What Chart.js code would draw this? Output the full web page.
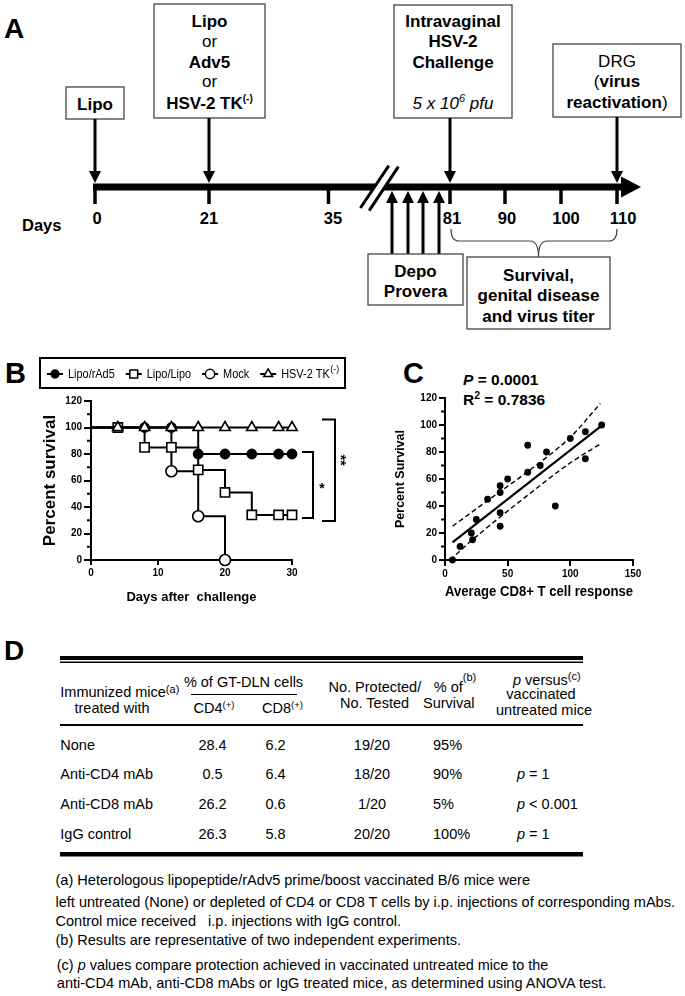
<!DOCTYPE html>
<html>
<head>
<meta charset="utf-8">
<title>Lipo/rAd5 prime-boost protection against HSV-2</title>
<script src="https://cdn.jsdelivr.net/npm/chart.js"></script>
<style>
  body { margin: 0; background: #fff; }
  #page { position: relative; width: 685px; height: 996px; overflow: hidden; background: #fff; }
  #art { position: absolute; left: 0; top: 0; }
  canvas { position: absolute; }
  #chartB { left: 0; top: 350px; }
  #chartC { left: 385px; top: 390px; }
</style>
</head>
<body>
<div id="page">
  <svg id="art" width="685" height="996" font-family="Liberation Sans, Arial, sans-serif"></svg>
  <canvas id="chartB" width="350" height="260"></canvas>
  <canvas id="chartC" width="300" height="215"></canvas>
</div>
<script>
// ---- data ----
const timelineDays = ['0', '21', '35', '81', '90', '100', '110'];

// B: Kaplan-Meier survival after challenge
const rad5Days = [0, 8, 12, 16, 20, 24, 28, 30];
const rad5Survival = [100, 100, 100, 80, 80, 80, 80, 80];
const lipoDays = [0, 4, 8, 12, 16, 20, 24, 28, 30];
const lipoSurvival = [100, 100, 85, 85, 68, 51, 34, 34, 34];
const mockDays = [0, 12, 16, 20];
const mockSurvival = [100, 67, 33, 0];
const tkDays = [0, 4, 8, 12, 16, 20, 24, 28, 30];
const tkSurvival = [100, 100, 100, 100, 100, 100, 100, 100, 100];
const dayTicks = [0, 10, 20, 30];
const survivalTicks = [0, 20, 40, 60, 80, 100, 120];
const survivalMinor = [10, 30, 50, 70, 90, 110];

// C: CD8+ response vs survival
const cd8Response = [6, 12, 21, 22, 25, 34, 44, 44, 44, 44, 50, 66, 66, 76, 81, 88, 100, 112, 112, 125];
const cd8Survival = [0, 10, 20, 15, 30, 45, 55, 50, 35, 25, 60, 85, 65, 70, 80, 40, 90, 95, 75, 100];
const fitX = [6, 125];
const fitY = [13, 99.5];
const upperX = [6, 34, 66, 100, 124];
const upperY = [25, 44, 65.5, 91, 116];
const lowerX = [4, 22, 66, 100, 124];
const lowerY = [0, 15, 48, 72, 86];
const cd8Ticks = [0, 50, 100, 150];

// D: depletion table
const treatments = ['None', 'Anti-CD4 mAb', 'Anti-CD8 mAb', 'IgG control'];
const cd4Percent = ['28.4', '0.5', '26.2', '26.3'];
const cd8Percent = ['6.2', '6.4', '0.6', '5.8'];
const protectedTested = ['19/20', '18/20', '1/20', '20/20'];
const survivalPercent = ['95%', '90%', '5%', '100%'];
const pVersus = ['', '= 1', '< 0.001', '= 1'];
const footnotes = [
  '(a) Heterologous lipopeptide/rAdv5 prime/boost vaccinated B/6 mice were',
  'left untreated (None) or depleted of CD4 or CD8 T cells by i.p. injections of corresponding mAbs.',
  'Control mice received   i.p. injections with IgG control.',
  '(b) Results are representative of two independent experiments.',
  '(c) p values compare protection achieved in vaccinated untreated mice to the',
  'anti-CD4 mAb, anti-CD8 mAbs or IgG treated mice, as determined using ANOVA test.'
];

// ---- svg artwork (panels A, D and labels) ----
const svg = [];
const esc = s => s.replace(/&/g, '&amp;').replace(/</g, '&lt;').replace(/>/g, '&gt;');
function text(x, y, content, o = {}) {
  const a = [`x="${x}"`, `y="${y}"`, `font-size="${o.size || 17}"`,
    `font-weight="${o.bold === false ? 'normal' : 'bold'}"`, `text-anchor="${o.anchor || 'middle'}"`];
  if (o.italic) a.push('font-style="italic"');
  if (o.len) a.push(`textLength="${o.len}" lengthAdjust="spacingAndGlyphs"`);
  svg.push(`<text ${a.join(' ')} style="white-space:pre">${content}</text>`);
}
const sup = (s, dy, size) => `<tspan dy="${-dy}" font-size="${size}">${s}</tspan>`;
const back = (s, dy) => `<tspan dy="${dy}">${s}</tspan>`;
const it = s => `<tspan font-style="italic">${s}</tspan>`;
const reg = s => `<tspan font-weight="normal">${s}</tspan>`;
function line(x1, y1, x2, y2, w, c) {
  svg.push(`<line x1="${x1}" y1="${y1}" x2="${x2}" y2="${y2}" stroke="${c || '#000'}" stroke-width="${w}"/>`);
}
function poly(pts, fill) { svg.push(`<polygon points="${pts.join(' ')}" fill="${fill || '#000'}"/>`); }
function box(x, y, w, h) {
  svg.push(`<rect x="${x}" y="${y}" width="${w}" height="${h}" fill="#fff" stroke="#444" stroke-width="1.3"/>`);
}
function arrowDown(x, y1, tip) { line(x, y1, x, tip - 10, 3); poly([x - 6, tip - 12, x + 6, tip - 12, x, tip]); }
function arrowUp(x, y1, tip) { line(x, y1, x, tip + 10, 3); poly([x - 6, tip + 12, x + 6, tip + 12, x, tip]); }

// panel A
text(4, 38, 'A', { size: 28, anchor: 'start' });
const tickX = [95, 209, 328.5, 450, 505, 561, 617];
const labelX = [97, 209, 333, 452, 507, 566, 623];
line(93, 187, 623, 187, 7);
poly([621, 176.5, 641, 187, 621, 197.5]);
tickX.forEach((x, i) => {
  line(x, 187, x, 204, 3.5);
  text(labelX[i], 224, timelineDays[i], { size: 16.5 });
});
poly([371, 192, 383, 192, 388.5, 182, 376.5, 182], '#fff');
line(360.4, 208, 388.8, 165.7, 3);
line(369.2, 210.7, 398.4, 166.7, 3);
text(22, 231, 'Days', { size: 16.5, anchor: 'start' });

box(66, 87, 58, 32);
text(95, 110, 'Lipo');
arrowDown(95, 119, 183);

box(154, 4, 111, 114);
text(209.5, 27.3, 'Lipo');
text(209.5, 46.7, 'or', { bold: false });
text(209.5, 67.7, 'Adv5');
text(209.5, 87.3, 'or', { bold: false });
text(209.5, 109.3, 'HSV-2 TK' + sup('(-)', 7, 10));
arrowDown(209, 118, 183);

box(394, 5, 118, 113);
text(453, 27.3, 'Intravaginal');
text(453, 46.7, 'HSV-2');
text(453, 68.3, 'Challenge');
text(453, 109.3, '5 x 10' + sup('6', 7, 11) + back(' pfu', 7), { bold: false, italic: true });
arrowDown(450, 118, 183);

box(553, 44, 128, 73);
text(617, 67.3, 'DRG', { bold: false });
text(617, 87.3, reg('(') + 'virus');
text(617, 108.3, 'reactivation' + reg(')'));
arrowDown(617, 117, 183);

[392, 408, 423, 439].forEach(x => arrowUp(x, 254, 191));
box(368, 254, 95, 51);
text(415.5, 277.3, 'Depo');
text(415.5, 297.3, 'Provera');

svg.push('<path d="M451,229 Q451,241 459,241 L530,241 Q538.5,241 538.5,257 Q538.5,241 547,241 L609,241 Q617,241 617,229" fill="none" stroke="#444" stroke-width="1.2"/>');
box(467, 257, 143, 72);
text(538.5, 280.7, 'Survival,');
text(538.5, 301, 'genital disease');
text(538.5, 321.7, 'and virus titer');

// panel letters / stats for B and C
text(5, 383, 'B', { size: 29, anchor: 'start' });
text(403, 383, 'C', { size: 29, anchor: 'start' });
text(463, 385, it('P') + ' = 0.0001', { size: 15.5, anchor: 'start' });
text(463, 405, 'R' + sup('2', 6, 10.5) + back(' = 0.7836', 6), { size: 15.5, anchor: 'start' });

// panel D
const T = { size: 14.5, bold: false };
text(4, 660, 'D', { size: 28, anchor: 'start' });
svg.push('<rect x="60" y="656" width="523" height="4" fill="#000"/>');
svg.push('<rect x="60" y="661.5" width="523" height="1.5" fill="#000"/>');
svg.push('<rect x="60" y="724" width="523" height="2" fill="#000"/>');
svg.push('<rect x="60" y="852" width="523" height="4.5" fill="#000"/>');
line(191, 694.5, 297, 694.5, 1);
text(60.3, 696.7, 'Immunized mice' + sup('(a)', 4, 11), { ...T, anchor: 'start' });
text(112, 713.3, 'treated with', T);
text(243.5, 686.7, '% of GT-DLN cells', T);
text(193.5, 713.3, 'CD4' + sup('(+)', 5, 9.5), { ...T, anchor: 'start' });
text(262, 713.3, 'CD8' + sup('(+)', 5, 9.5), { ...T, anchor: 'start' });
text(328.5, 691.7, 'No. Protected/', { ...T, anchor: 'start' });
text(340, 707.7, 'No. Tested', { ...T, anchor: 'start' });
text(433.8, 691.7, '% of' + sup('(b)', 11, 11), { ...T, anchor: 'start' });
text(423, 707.7, 'Survival', { ...T, anchor: 'start' });
text(513, 685, it('p') + ' versus' + sup('(c)', 5, 11), { ...T, anchor: 'start' });
text(541, 699.3, 'vaccinated', T);
text(544, 715, 'untreated mice', T);
const rowY = [750, 779, 809, 839];
treatments.forEach((t, i) => {
  const y = rowY[i];
  text(60.3, y, esc(t), { ...T, anchor: 'start' });
  text(212.5, y, cd4Percent[i], T);
  text(275.5, y, cd8Percent[i], T);
  text(372, y, protectedTested[i], T);
  text(433, y, survivalPercent[i], { ...T, anchor: 'start' });
  if (pVersus[i]) text(517, y, it('p') + ' ' + esc(pVersus[i]), { ...T, anchor: 'start' });
});
const noteY = [885, 906.7, 925.7, 945, 970, 988.3];
const noteX = [55.5, 55.5, 55.5, 55.5, 56.8, 56.8];
const noteLen = [474.5, 619.5, 345.5, 405.5, 491.5, 549.6];
footnotes.forEach((s, i) => {
  const content = esc(s).replace(/^\(c\) p /, '(c) ' + it('p') + ' ');
  text(noteX[i], noteY[i], content, { ...T, anchor: 'start', len: noteLen[i] });
});

document.getElementById('art').innerHTML = svg.join('');

// ---- charts ----
const F = '"Liberation Sans", Arial, sans-serif';
Chart.defaults.font.family = F;
Chart.defaults.color = '#000';

const minorTicks = {
  id: 'minorTicks',
  afterDraw(chart, args, opts) {
    const s = chart.scales.y, ctx = chart.ctx;
    ctx.save();
    ctx.strokeStyle = '#000';
    ctx.lineWidth = 2;
    opts.values.forEach(v => {
      const py = s.getPixelForValue(v);
      ctx.beginPath();
      ctx.moveTo(s.right - opts.length, py);
      ctx.lineTo(s.right, py);
      ctx.stroke();
    });
    ctx.restore();
  }
};

function drawMarker(ctx, style, r, x, y) {
  ctx.beginPath();
  if (style === 'rect') {
    const h = Math.SQRT1_2 * r;
    ctx.rect(x - h, y - h, 2 * h, 2 * h);
  } else if (style === 'triangle') {
    let a = 0;
    ctx.moveTo(x + Math.sin(a) * r, y - Math.cos(a) * r);
    a += 2 * Math.PI / 3; ctx.lineTo(x + Math.sin(a) * r, y - Math.cos(a) * r);
    a += 2 * Math.PI / 3; ctx.lineTo(x + Math.sin(a) * r, y - Math.cos(a) * r);
    ctx.closePath();
  } else {
    ctx.arc(x, y, r, 0, 2 * Math.PI);
  }
  ctx.fill();
  ctx.stroke();
}

const legendOrder = ['Lipo/rAd5', 'Lipo/Lipo', 'Mock', 'HSV-2 TK'];
const bLegend = {
  id: 'bLegend',
  afterDraw(chart) {
    const ctx = chart.ctx;
    ctx.save();
    ctx.strokeStyle = '#000';
    ctx.lineWidth = 2;
    ctx.strokeRect(40, 8, 305, 30);
    ctx.textBaseline = 'middle';
    let x = 47;
    const y = 24;
    legendOrder.forEach(name => {
      const ds = chart.data.datasets.find(d => d.label === name);
      const r = ds.pointRadius[ds.pointRadius.length - 1] * 0.85;
      ctx.lineWidth = 2;
      ctx.beginPath(); ctx.moveTo(x, y); ctx.lineTo(x + 16, y); ctx.stroke();
      ctx.fillStyle = ds.pointBackgroundColor;
      ctx.lineWidth = 1.5;
      drawMarker(ctx, ds.pointStyle, r, x + 8, y);
      ctx.fillStyle = '#000';
      ctx.font = '13px ' + F;
      const tx = x + 21;
      const w = ctx.measureText(name).width * 0.84;
      ctx.save(); ctx.translate(tx, y); ctx.scale(0.84, 1); ctx.fillText(name, 0, 0); ctx.restore();
      let end = tx + w;
      if (name === 'HSV-2 TK') {
        ctx.font = '9px ' + F;
        ctx.fillText('(-)', end + 0.5, y - 4);
        end += ctx.measureText('(-)').width;
      }
      x = end + 11;
    });
    ctx.restore();
  }
};

const brackets = {
  id: 'brackets',
  afterDraw(chart) {
    const ctx = chart.ctx, y = chart.scales.y;
    const y100 = y.getPixelForValue(100), y80 = y.getPixelForValue(80), y34 = y.getPixelForValue(34);
    ctx.save();
    ctx.strokeStyle = '#000';
    ctx.lineWidth = 2;
    ctx.beginPath();
    ctx.moveTo(302, y80 - 2); ctx.lineTo(313, y80 - 2); ctx.lineTo(313, y34 + 3); ctx.lineTo(302, y34 + 3);
    ctx.moveTo(322, y100 - 8); ctx.lineTo(335, y100 - 8); ctx.lineTo(335, y34 + 6); ctx.lineTo(322, y34 + 6);
    ctx.stroke();
    ctx.fillStyle = '#000';
    ctx.font = 'bold 14px ' + F;
    ctx.textAlign = 'center';
    ctx.fillText('*', 322, (y80 + y34) / 2 + 9);
    ctx.translate(336, (y100 + y34) / 2 - 11);
    ctx.rotate(Math.PI / 2);
    ctx.fillText('**', 0, 0);
    ctx.restore();
  }
};

function kmDataset(label, days, values, pointStyle, fill, radius, order) {
  return {
    label, order, pointStyle, stepped: 'before',
    data: days.map((d, i) => ({ x: d, y: values[i] })),
    borderColor: '#000', borderWidth: 2,
    pointRadius: days.map(d => (d === 0 ? 0 : radius)),
    pointBackgroundColor: fill, pointBorderColor: '#000', pointBorderWidth: 1.6,
    clip: false
  };
}

const tickFont = { size: 10, weight: 'bold' };

new Chart(document.getElementById('chartB'), {
  type: 'line',
  data: {
    datasets: [
      kmDataset('HSV-2 TK', tkDays, tkSurvival, 'triangle', '#fff', 6, 0),
      kmDataset('Lipo/rAd5', rad5Days, rad5Survival, 'circle', '#000', 4.6, 1),
      kmDataset('Lipo/Lipo', lipoDays, lipoSurvival, 'rect', '#fff', 6.5, 2),
      kmDataset('Mock', mockDays, mockSurvival, 'circle', '#fff', 5.5, 3)
    ]
  },
  options: {
    responsive: false, animation: false, devicePixelRatio: 1,
    layout: { padding: { left: 0, top: 51, right: 58, bottom: 0 } },
    plugins: { legend: { display: false }, tooltip: { enabled: false },
      minorTicks: { values: survivalMinor, length: 4 } },
    scales: {
      x: {
        type: 'linear', min: 0, max: 30,
        afterBuildTicks: s => { s.ticks = dayTicks.map(v => ({ value: v })); },
        afterFit: s => { s.height = 50; },
        ticks: { font: tickFont, padding: 2, maxRotation: 0 },
        grid: { drawOnChartArea: false, color: '#000', lineWidth: 2, tickLength: 5 },
        border: { color: '#000', width: 2 },
        title: { display: true, text: 'Days after  challenge', font: { size: 13, weight: 'bold' }, padding: { top: 0, bottom: 5 } }
      },
      y: {
        min: 0, max: 120,
        afterBuildTicks: s => { s.ticks = survivalTicks.map(v => ({ value: v })); },
        afterFit: s => { s.width = 91; },
        ticks: { font: tickFont, padding: 2 },
        grid: { drawOnChartArea: false, color: '#000', lineWidth: 2, tickLength: 7 },
        border: { color: '#000', width: 2 },
        title: { display: true, text: 'Percent survival', font: { size: 17, weight: 'bold' }, padding: { top: 40, bottom: 0 } }
      }
    }
  },
  plugins: [minorTicks, bLegend, brackets]
});

const pts = (xs, ys) => xs.map((x, i) => ({ x, y: ys[i] }));
new Chart(document.getElementById('chartC'), {
  type: 'scatter',
  data: {
    datasets: [
      { label: 'Mice', data: pts(cd8Response, cd8Survival), pointRadius: 3.4,
        pointBackgroundColor: '#000', pointBorderWidth: 0, clip: false },
      { label: 'Linear fit', data: pts(fitX, fitY), showLine: true, borderColor: '#000',
        borderWidth: 2.2, pointRadius: 0 },
      { label: '95% upper', data: pts(upperX, upperY), showLine: true, borderColor: '#000',
        borderWidth: 1.4, borderDash: [5, 3], pointRadius: 0, cubicInterpolationMode: 'monotone' },
      { label: '95% lower', data: pts(lowerX, lowerY), showLine: true, borderColor: '#000',
        borderWidth: 1.4, borderDash: [5, 3], pointRadius: 0, cubicInterpolationMode: 'monotone' }
    ]
  },
  options: {
    responsive: false, animation: false, devicePixelRatio: 1,
    layout: { padding: { left: 0, top: 7, right: 52, bottom: 0 } },
    plugins: { legend: { display: false }, tooltip: { enabled: false },
      minorTicks: { values: survivalMinor, length: 4 } },
    scales: {
      x: {
        type: 'linear', min: 0, max: 150,
        afterBuildTicks: s => { s.ticks = cd8Ticks.map(v => ({ value: v })); },
        afterFit: s => { s.height = 45; },
        ticks: { font: tickFont, padding: 2, maxRotation: 0 },
        grid: { drawOnChartArea: false, color: '#000', lineWidth: 2, tickLength: 6 },
        border: { color: '#000', width: 2 },
        title: { display: true, text: 'Average CD8+ T cell response', font: { size: 15, weight: 'bold' }, padding: { top: 0, bottom: 4 } }
      },
      y: {
        min: 0, max: 120,
        afterBuildTicks: s => { s.ticks = survivalTicks.map(v => ({ value: v })); },
        afterFit: s => { s.width = 60; },
        ticks: { font: tickFont, padding: 2 },
        grid: { drawOnChartArea: false, color: '#000', lineWidth: 2, tickLength: 6 },
        border: { color: '#000', width: 2 },
        title: { display: true, text: 'Percent Survival', font: { size: 12.5, weight: 'bold' }, padding: { top: 8, bottom: 0 } }
      }
    }
  },
  plugins: [minorTicks]
});
</script>
</body>
</html>
